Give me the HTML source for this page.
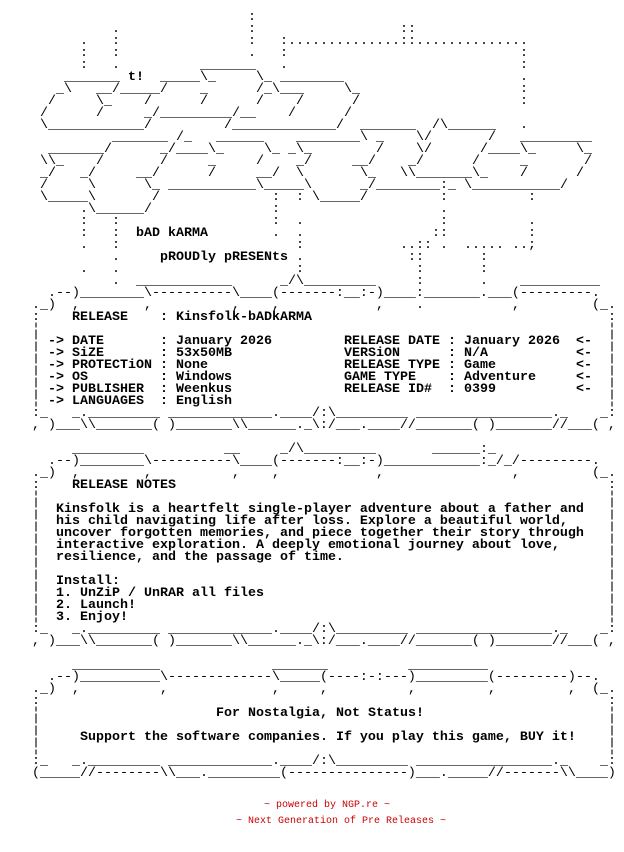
<!DOCTYPE html>
<html><head><meta charset="utf-8"><style>
html,body{margin:0;padding:0;background:#fff;}
#c{position:relative;width:624px;height:852px;overflow:hidden;font-family:"Liberation Mono",monospace;font-size:13.33px;line-height:12px;color:#000;}
#c span{position:absolute;white-space:pre;height:12px;}
.t{font-weight:bold;}
.f{font-family:"Liberation Mono",monospace;font-size:10px;line-height:12px;color:#cc0000;position:absolute;white-space:pre;}
</style></head><body><div id="c">
<!-- logo -->
<span style="left:248px;top:12px">:</span>
<span style="left:112px;top:24px">.</span><span style="left:248px;top:24px">:</span><span style="left:400px;top:24px">::</span>
<span style="left:80px;top:36px">.</span><span style="left:112px;top:36px">:</span><span style="left:248px;top:36px">:</span><span style="left:280px;top:36px">:..............::..............</span>
<span style="left:80px;top:48px">:</span><span style="left:112px;top:48px">:</span><span style="left:248px;top:48px">.</span><span style="left:280px;top:48px">:</span><span style="left:520px;top:48px">:</span>
<span style="left:80px;top:60px">:</span><span style="left:112px;top:60px">.</span><span style="left:200px;top:60px">_______</span><span style="left:280px;top:60px">.</span><span style="left:520px;top:60px">:</span>
<span style="left:64px;top:72px">_______</span><span class="t" style="left:128px;top:72px">t!</span><span style="left:160px;top:72px">_____\_</span><span style="left:256px;top:72px">\_</span><span style="left:280px;top:72px">________</span><span style="left:520px;top:72px">.</span>
<span style="left:56px;top:84px">_\</span><span style="left:96px;top:84px">__/</span><span style="left:120px;top:84px">_____/</span><span style="left:200px;top:84px">_</span><span style="left:256px;top:84px">/_\___</span><span style="left:344px;top:84px">\_</span><span style="left:520px;top:84px">:</span>
<span style="left:48px;top:96px">/</span><span style="left:96px;top:96px">\_</span><span style="left:144px;top:96px">/</span><span style="left:200px;top:96px">/</span><span style="left:256px;top:96px">/</span><span style="left:296px;top:96px">/</span><span style="left:352px;top:96px">/</span><span style="left:520px;top:96px">:</span>
<span style="left:40px;top:108px">/</span><span style="left:96px;top:108px">/</span><span style="left:144px;top:108px">_/_________/__</span><span style="left:288px;top:108px">/</span><span style="left:344px;top:108px">/</span>
<span style="left:40px;top:120px">\____________/</span><span style="left:224px;top:120px">/_____________/</span><span style="left:360px;top:120px">_______</span><span style="left:432px;top:120px">/\______</span><span style="left:520px;top:120px">.</span>
<span style="left:112px;top:132px">_______</span><span style="left:176px;top:132px">/_</span><span style="left:216px;top:132px">______</span><span style="left:296px;top:132px">________\</span><span style="left:376px;top:132px">_</span><span style="left:416px;top:132px">\/</span><span style="left:488px;top:132px">/</span><span style="left:520px;top:132px">_________</span>
<span style="left:48px;top:144px">_______/</span><span style="left:160px;top:144px">_/____\_</span><span style="left:264px;top:144px">\_</span><span style="left:288px;top:144px">_\_</span><span style="left:376px;top:144px">/</span><span style="left:416px;top:144px">\/</span><span style="left:480px;top:144px">/____\_</span><span style="left:576px;top:144px">\_</span>
<span style="left:40px;top:156px">\\_</span><span style="left:96px;top:156px">/</span><span style="left:160px;top:156px">/</span><span style="left:208px;top:156px">_</span><span style="left:256px;top:156px">/</span><span style="left:296px;top:156px">_/</span><span style="left:352px;top:156px">__/</span><span style="left:408px;top:156px">_/</span><span style="left:472px;top:156px">/</span><span style="left:520px;top:156px">_</span><span style="left:584px;top:156px">/</span>
<span style="left:40px;top:168px">_/</span><span style="left:80px;top:168px">_/</span><span style="left:136px;top:168px">__/</span><span style="left:208px;top:168px">/</span><span style="left:256px;top:168px">__/</span><span style="left:296px;top:168px">\</span><span style="left:360px;top:168px">\_</span><span style="left:400px;top:168px">\\_______\_</span><span style="left:520px;top:168px">/</span><span style="left:576px;top:168px">/</span>
<span style="left:40px;top:180px">/</span><span style="left:88px;top:180px">\</span><span style="left:144px;top:180px">\_</span><span style="left:168px;top:180px">___________</span><span style="left:256px;top:180px">\_____\</span><span style="left:360px;top:180px">_/________:_</span><span style="left:464px;top:180px">\___________/</span>
<span style="left:40px;top:192px">\_____\</span><span style="left:152px;top:192px">/</span><span style="left:272px;top:192px">:</span><span style="left:296px;top:192px">:</span><span style="left:312px;top:192px">\_____/</span><span style="left:440px;top:192px">:</span><span style="left:528px;top:192px">:</span>
<span style="left:80px;top:204px">.</span><span style="left:88px;top:204px">\______/</span><span style="left:272px;top:204px">:</span><span style="left:440px;top:204px">.</span>
<span style="left:80px;top:216px">:</span><span style="left:112px;top:216px">:</span><span style="left:272px;top:216px">:</span><span style="left:296px;top:216px">.</span><span style="left:440px;top:216px">:</span><span style="left:528px;top:216px">.</span>
<span style="left:80px;top:228px">:</span><span style="left:112px;top:228px">:</span><span class="t" style="left:136px;top:228px">bAD kARMA</span><span style="left:272px;top:228px">.</span><span style="left:296px;top:228px">.</span><span style="left:432px;top:228px">::</span><span style="left:528px;top:228px">:</span>
<span style="left:80px;top:240px">.</span><span style="left:112px;top:240px">:</span><span style="left:296px;top:240px">:</span><span style="left:400px;top:240px">..::</span><span style="left:440px;top:240px">.</span><span style="left:464px;top:240px">.....</span><span style="left:512px;top:240px">..;</span>
<span style="left:112px;top:252px">.</span><span class="t" style="left:160px;top:252px">pROUDly pRESENts</span><span style="left:296px;top:252px">.</span><span style="left:408px;top:252px">::</span><span style="left:480px;top:252px">:</span>
<span style="left:80px;top:264px">.</span><span style="left:112px;top:264px">.</span><span style="left:296px;top:264px">:</span><span style="left:416px;top:264px">:</span><span style="left:480px;top:264px">:</span>
<!-- section 1 -->
<span style="left:112px;top:276px">.</span><span style="left:136px;top:276px">____________</span><span style="left:280px;top:276px">_/\_________</span><span style="left:416px;top:276px">:</span><span style="left:480px;top:276px">.</span><span style="left:520px;top:276px">__________</span>
<span style="left:48px;top:288px">.--)________\----------\____(-------:__:-)____:_______.___(---------.</span>
<span style="left:32px;top:300px">._)</span><span style="left:72px;top:300px">,</span><span style="left:144px;top:300px">,</span><span style="left:232px;top:300px">,</span><span style="left:272px;top:300px">,</span><span style="left:376px;top:300px">,</span><span style="left:416px;top:300px">.</span><span style="left:512px;top:300px">,</span><span style="left:592px;top:300px">(_.</span>
<span style="left:32px;top:312px">:</span><span class="t" style="left:72px;top:312px">RELEASE    : Kinsfolk-bADkARMA</span><span style="left:608px;top:312px">:</span>
<span style="left:32px;top:324px">¦</span><span style="left:608px;top:324px">¦</span>
<span style="left:32px;top:336px">¦</span><span class="t" style="left:48px;top:336px">-> DATE       : January 2026</span><span class="t" style="left:344px;top:336px">RELEASE DATE : January 2026</span><span class="t" style="left:576px;top:336px">&lt;-</span><span style="left:608px;top:336px">¦</span>
<span style="left:32px;top:348px">¦</span><span class="t" style="left:48px;top:348px">-> SiZE       : 53x50MB</span><span class="t" style="left:344px;top:348px">VERSiON      : N/A</span><span class="t" style="left:576px;top:348px">&lt;-</span><span style="left:608px;top:348px">¦</span>
<span style="left:32px;top:360px">¦</span><span class="t" style="left:48px;top:360px">-> PROTECTiON : None</span><span class="t" style="left:344px;top:360px">RELEASE TYPE : Game</span><span class="t" style="left:576px;top:360px">&lt;-</span><span style="left:608px;top:360px">¦</span>
<span style="left:32px;top:372px">¦</span><span class="t" style="left:48px;top:372px">-> OS         : Windows</span><span class="t" style="left:344px;top:372px">GAME TYPE    : Adventure</span><span class="t" style="left:576px;top:372px">&lt;-</span><span style="left:608px;top:372px">¦</span>
<span style="left:32px;top:384px">¦</span><span class="t" style="left:48px;top:384px">-> PUBLISHER  : Weenkus</span><span class="t" style="left:344px;top:384px">RELEASE ID#  : 0399</span><span class="t" style="left:576px;top:384px">&lt;-</span><span style="left:608px;top:384px">¦</span>
<span style="left:32px;top:396px">¦</span><span class="t" style="left:48px;top:396px">-> LANGUAGES  : English</span><span style="left:608px;top:396px">¦</span>
<span style="left:32px;top:408px">:_</span><span style="left:72px;top:408px">_._________</span><span style="left:168px;top:408px">_________</span><span style="left:240px;top:408px">____.____/:\_________</span><span style="left:416px;top:408px">_________</span><span style="left:488px;top:408px">________._</span><span style="left:600px;top:408px">_:</span>
<span style="left:32px;top:420px">, )___\\_______( )_______\\______._\:/___.____//_______( )_______//___( ,</span>
<!-- section 2 -->
<span style="left:72px;top:444px">_________</span><span style="left:224px;top:444px">__</span><span style="left:280px;top:444px">_/\_________</span><span style="left:432px;top:444px">______:_</span>
<span style="left:48px;top:456px">.--)________\----------\____(-------:__:-)____________:_/_/---------.</span>
<span style="left:32px;top:468px">._)</span><span style="left:72px;top:468px">,</span><span style="left:144px;top:468px">,</span><span style="left:232px;top:468px">,</span><span style="left:272px;top:468px">,</span><span style="left:376px;top:468px">,</span><span style="left:512px;top:468px">,</span><span style="left:592px;top:468px">(_.</span>
<span style="left:32px;top:480px">:</span><span class="t" style="left:72px;top:480px">RELEASE NOTES</span><span style="left:608px;top:480px">:</span>
<span style="left:32px;top:492px">¦</span><span style="left:608px;top:492px">¦</span>
<span style="left:32px;top:504px">¦</span><span class="t" style="left:56px;top:504px">Kinsfolk is a heartfelt single-player adventure about a father and</span><span style="left:608px;top:504px">¦</span>
<span style="left:32px;top:516px">¦</span><span class="t" style="left:56px;top:516px">his child navigating life after loss. Explore a beautiful world,</span><span style="left:608px;top:516px">¦</span>
<span style="left:32px;top:528px">¦</span><span class="t" style="left:56px;top:528px">uncover forgotten memories, and piece together their story through</span><span style="left:608px;top:528px">¦</span>
<span style="left:32px;top:540px">¦</span><span class="t" style="left:56px;top:540px">interactive exploration. A deeply emotional journey about love,</span><span style="left:608px;top:540px">¦</span>
<span style="left:32px;top:552px">¦</span><span class="t" style="left:56px;top:552px">resilience, and the passage of time.</span><span style="left:608px;top:552px">¦</span>
<span style="left:32px;top:564px">¦</span><span style="left:608px;top:564px">¦</span>
<span style="left:32px;top:576px">¦</span><span class="t" style="left:56px;top:576px">Install:</span><span style="left:608px;top:576px">¦</span>
<span style="left:32px;top:588px">¦</span><span class="t" style="left:56px;top:588px">1. UnZiP / UnRAR all files</span><span style="left:608px;top:588px">¦</span>
<span style="left:32px;top:600px">¦</span><span class="t" style="left:56px;top:600px">2. Launch!</span><span style="left:608px;top:600px">¦</span>
<span style="left:32px;top:612px">¦</span><span class="t" style="left:56px;top:612px">3. Enjoy!</span><span style="left:608px;top:612px">¦</span>
<span style="left:32px;top:624px">:_</span><span style="left:72px;top:624px">_._________</span><span style="left:168px;top:624px">_________</span><span style="left:240px;top:624px">____.____/:\_________</span><span style="left:416px;top:624px">_________</span><span style="left:488px;top:624px">________._</span><span style="left:600px;top:624px">_:</span>
<span style="left:32px;top:636px">, )___\\_______( )_______\\______._\:/___.____//_______( )_______//___( ,</span>
<!-- section 3 -->
<span style="left:72px;top:660px">___________</span><span style="left:272px;top:660px">_______</span><span style="left:408px;top:660px">__________</span>
<span style="left:48px;top:672px">.--)__________\-------------\_____(----:-:---)_________(---------)--.</span>
<span style="left:32px;top:684px">._)</span><span style="left:72px;top:684px">,</span><span style="left:160px;top:684px">,</span><span style="left:272px;top:684px">,</span><span style="left:320px;top:684px">,</span><span style="left:408px;top:684px">,</span><span style="left:488px;top:684px">,</span><span style="left:568px;top:684px">,</span><span style="left:592px;top:684px">(_.</span>
<span style="left:32px;top:696px">:</span><span style="left:608px;top:696px">:</span>
<span style="left:32px;top:708px">¦</span><span class="t" style="left:216px;top:708px">For Nostalgia, Not Status!</span><span style="left:608px;top:708px">¦</span>
<span style="left:32px;top:720px">¦</span><span style="left:608px;top:720px">¦</span>
<span style="left:32px;top:732px">¦</span><span class="t" style="left:80px;top:732px">Support the software companies. If you play this game, BUY it!</span><span style="left:608px;top:732px">¦</span>
<span style="left:32px;top:744px">¦</span><span style="left:608px;top:744px">¦</span>
<span style="left:32px;top:756px">:_</span><span style="left:72px;top:756px">_._________</span><span style="left:168px;top:756px">_________</span><span style="left:240px;top:756px">____.____/:\_________</span><span style="left:416px;top:756px">_________</span><span style="left:488px;top:756px">________._</span><span style="left:600px;top:756px">_:</span>
<span style="left:32px;top:768px">(_____//--------\\___._________(---------------)___._____//-------\\____)</span>
</div>
<div class="f" style="left:264px;top:800px">~ powered by NGP.re ~</div>
<div class="f" style="left:236px;top:816px">~ Next Generation of Pre Releases ~</div>
</body></html>
